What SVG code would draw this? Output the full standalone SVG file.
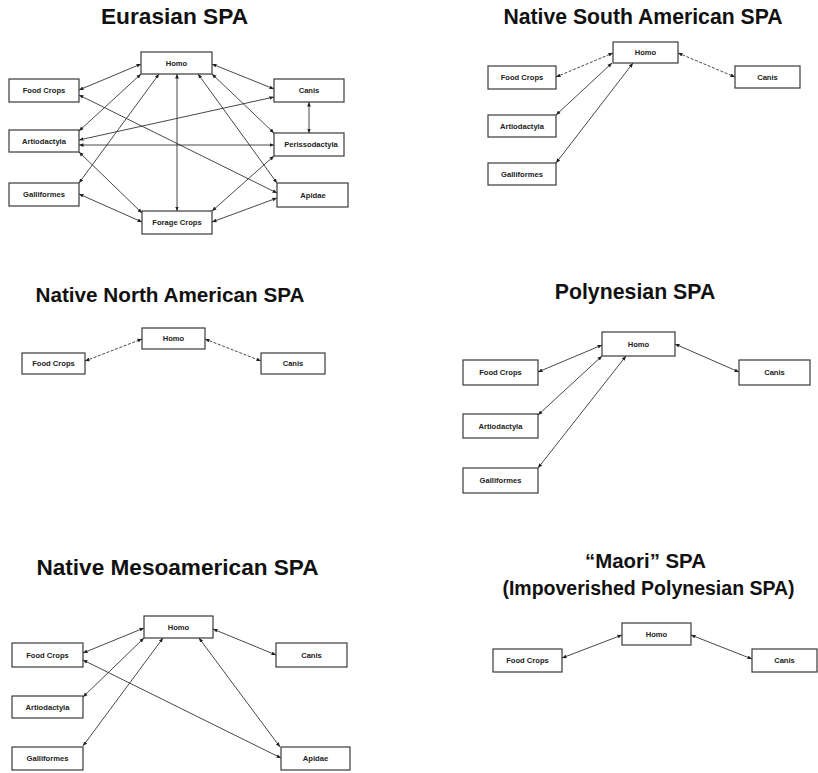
<svg xmlns="http://www.w3.org/2000/svg" width="818" height="773" viewBox="0 0 818 773">
<style>
.bg{fill:#fff}
.title{font-family:"Liberation Sans",Arial,sans-serif;font-weight:bold;fill:#111;text-anchor:middle}
.node rect{fill:#fff;stroke:#3a3a3a;stroke-width:1.2}
.node text{font-family:"Liberation Sans",Arial,sans-serif;font-weight:bold;font-size:7.6px;fill:#222;text-anchor:middle;dominant-baseline:central}
.edges line{stroke:#333;stroke-width:0.9;fill:none;marker-start:url(#ah);marker-end:url(#ah)}
.edges line.dash{stroke-dasharray:3,1.6}
</style>
<defs>
<marker id="ah" viewBox="0 0 6 6" refX="6" refY="3" markerWidth="4.5" markerHeight="4.5" markerUnits="userSpaceOnUse" orient="auto-start-reverse">
<path d="M0,0.5 L6,3 L0,5.5 z" fill="#222"/>
</marker>
</defs>
<rect class="bg" x="0" y="0" width="818" height="773"/>

<!-- Titles -->
<text class="title" x="174.5" y="24" font-size="22.7">Eurasian SPA</text>
<text class="title" x="643" y="24" font-size="21.2">Native South American SPA</text>
<text class="title" x="170" y="302" font-size="20.7">Native North American SPA</text>
<text class="title" x="635" y="299" font-size="21.3">Polynesian SPA</text>
<text class="title" x="177.5" y="575" font-size="22.6">Native Mesoamerican SPA</text>
<text class="title" x="645.5" y="568" font-size="20.4">“Maori” SPA</text>
<text class="title" x="648.5" y="595" font-size="19.5">(Impoverished Polynesian SPA)</text>

<!-- Connectors -->
<g id="connectors" class="edges">
  <!-- Eurasian -->
  <line x1="141" y1="64" x2="79" y2="90"/>
  <line x1="141" y1="74" x2="79" y2="131"/>
  <line x1="159" y1="74" x2="79" y2="183"/>
  <line x1="177" y1="74" x2="177" y2="211"/>
  <line x1="212" y1="64" x2="274" y2="89"/>
  <line x1="212" y1="74" x2="274" y2="133"/>
  <line x1="198" y1="74" x2="277" y2="183"/>
  <line x1="79" y1="95" x2="277" y2="193"/>
  <line x1="79" y1="140" x2="274" y2="97"/>
  <line x1="79" y1="145" x2="274" y2="145"/>
  <line x1="79" y1="152" x2="142" y2="213"/>
  <line x1="79" y1="194" x2="142" y2="222"/>
  <line x1="309" y1="102" x2="309" y2="133"/>
  <line x1="274" y1="156" x2="212" y2="211"/>
  <line x1="277" y1="198" x2="212" y2="222"/>
  <!-- Native South American -->
  <line class="dash" x1="556" y1="77" x2="613" y2="53"/>
  <line class="dash" x1="678" y1="53" x2="735" y2="77"/>
  <line x1="556" y1="115" x2="612" y2="63"/>
  <line x1="556" y1="163" x2="633" y2="63"/>
  <!-- Native North American -->
  <line class="dash" x1="85" y1="361" x2="142" y2="339"/>
  <line class="dash" x1="205" y1="339" x2="261" y2="361"/>
  <!-- Polynesian -->
  <line x1="538" y1="372" x2="602" y2="345"/>
  <line x1="675" y1="344" x2="739" y2="372"/>
  <line x1="538" y1="415" x2="602" y2="356"/>
  <line x1="538" y1="468" x2="626" y2="356"/>
  <!-- Mesoamerican -->
  <line x1="83" y1="653" x2="144" y2="628"/>
  <line x1="213" y1="629" x2="276" y2="655"/>
  <line x1="83" y1="697" x2="144" y2="638"/>
  <line x1="83" y1="746" x2="163" y2="638"/>
  <line x1="199" y1="638" x2="280" y2="747"/>
  <line x1="83" y1="660" x2="281" y2="758"/>
  <!-- Maori -->
  <line x1="562" y1="658" x2="622" y2="635"/>
  <line x1="691" y1="635" x2="752" y2="659"/>
</g>

<!-- Eurasian nodes -->
<g id="eu-homo" class="node"><rect x="141" y="52" width="71" height="22"/><text x="176.5" y="63">Homo</text></g>
<g id="eu-foodcrops" class="node"><rect x="9" y="79" width="70" height="23"/><text x="44" y="90.5">Food Crops</text></g>
<g id="eu-artiodactyla" class="node"><rect x="9" y="130" width="70" height="22"/><text x="44" y="141">Artiodactyla</text></g>
<g id="eu-galliformes" class="node"><rect x="9" y="183" width="70" height="23"/><text x="44" y="194.5">Galliformes</text></g>
<g id="eu-foragecrops" class="node"><rect x="142" y="211" width="70" height="23"/><text x="177" y="222.5">Forage Crops</text></g>
<g id="eu-canis" class="node"><rect x="274" y="79" width="70" height="23"/><text x="309" y="90.5">Canis</text></g>
<g id="eu-perissodactyla" class="node"><rect x="274" y="133" width="70" height="23"/><text x="311" y="144.5">Perissodactyla</text></g>
<g id="eu-apidae" class="node"><rect x="277" y="183" width="71" height="24"/><text x="313" y="195">Apidae</text></g>

<!-- Native South American nodes -->
<g id="nsa-homo" class="node"><rect x="613" y="42" width="65" height="21"/><text x="645.5" y="52.5">Homo</text></g>
<g id="nsa-foodcrops" class="node"><rect x="488" y="66" width="68" height="23"/><text x="522" y="77.5">Food Crops</text></g>
<g id="nsa-canis" class="node"><rect x="735" y="66" width="65" height="22"/><text x="767.5" y="77">Canis</text></g>
<g id="nsa-artiodactyla" class="node"><rect x="488" y="115" width="68" height="22"/><text x="522" y="126">Artiodactyla</text></g>
<g id="nsa-galliformes" class="node"><rect x="488" y="163" width="68" height="22"/><text x="522" y="174">Galliformes</text></g>

<!-- Native North American nodes -->
<g id="nna-homo" class="node"><rect x="142" y="328" width="63" height="21"/><text x="173.5" y="338.5">Homo</text></g>
<g id="nna-foodcrops" class="node"><rect x="22" y="353" width="63" height="21"/><text x="53.5" y="363.5">Food Crops</text></g>
<g id="nna-canis" class="node"><rect x="261" y="353" width="64" height="21"/><text x="293" y="363.5">Canis</text></g>

<!-- Polynesian nodes -->
<g id="pol-homo" class="node"><rect x="602" y="332" width="73" height="24"/><text x="638.5" y="344">Homo</text></g>
<g id="pol-foodcrops" class="node"><rect x="463" y="360" width="75" height="25"/><text x="500.5" y="372.5">Food Crops</text></g>
<g id="pol-canis" class="node"><rect x="739" y="360" width="71" height="25"/><text x="774.5" y="372.5">Canis</text></g>
<g id="pol-artiodactyla" class="node"><rect x="463" y="414" width="75" height="24"/><text x="500.5" y="426">Artiodactyla</text></g>
<g id="pol-galliformes" class="node"><rect x="463" y="468" width="75" height="25"/><text x="500.5" y="480.5">Galliformes</text></g>

<!-- Mesoamerican nodes -->
<g id="meso-homo" class="node"><rect x="144" y="616" width="69" height="22"/><text x="178.5" y="627">Homo</text></g>
<g id="meso-foodcrops" class="node"><rect x="12" y="643" width="71" height="24"/><text x="47.5" y="655">Food Crops</text></g>
<g id="meso-canis" class="node"><rect x="276" y="643" width="71" height="24"/><text x="311.5" y="655">Canis</text></g>
<g id="meso-artiodactyla" class="node"><rect x="12" y="696" width="71" height="22"/><text x="47.5" y="707">Artiodactyla</text></g>
<g id="meso-galliformes" class="node"><rect x="12" y="747" width="71" height="23"/><text x="47.5" y="758.5">Galliformes</text></g>
<g id="meso-apidae" class="node"><rect x="281" y="747" width="69" height="23"/><text x="315.5" y="758.5">Apidae</text></g>

<!-- Maori nodes -->
<g id="mao-homo" class="node"><rect x="622" y="623" width="69" height="22"/><text x="656.5" y="634">Homo</text></g>
<g id="mao-foodcrops" class="node"><rect x="493" y="649" width="69" height="23"/><text x="527.5" y="660.5">Food Crops</text></g>
<g id="mao-canis" class="node"><rect x="752" y="649" width="65" height="23"/><text x="784.5" y="660.5">Canis</text></g>
</svg>
